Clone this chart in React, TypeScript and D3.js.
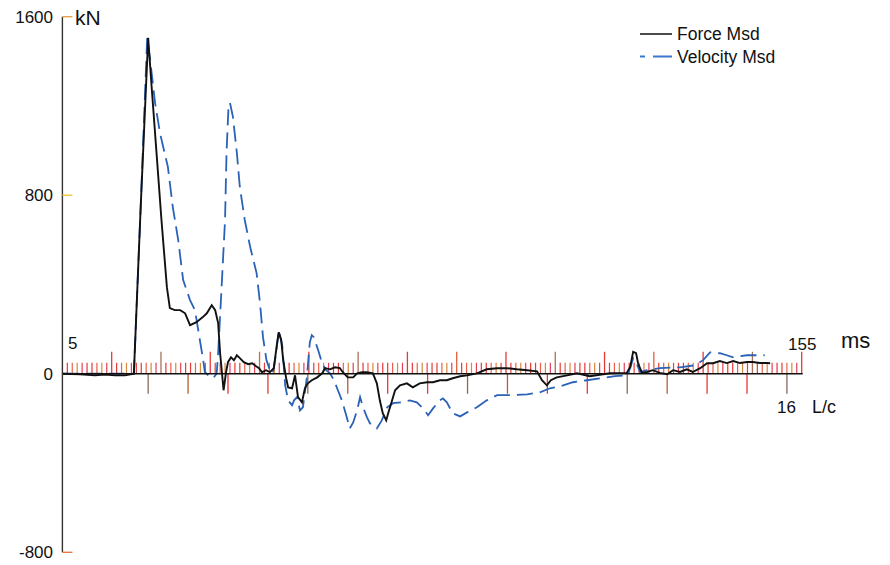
import React from "react";
import * as d3 from "d3";

// Force measured (ms, kN)
const forceT = [5.1, 8.6, 11.6, 13.6, 15.7, 17.7, 19.5, 20.9, 22.4, 23.1, 24.1, 25.1, 26.2, 26.8, 27.8, 28.9, 29.9, 30.9, 32.2, 33.5, 34.3, 35.3, 36.0, 36.6, 37.0, 37.4, 37.7, 38.2, 38.6, 39.2, 39.8, 40.4, 41.0, 41.8, 42.7, 43.5, 44.3, 44.9, 45.5, 46.3, 47.1, 47.9, 48.5, 48.9, 49.4, 49.8, 50.4, 50.8, 51.6, 52.2, 52.8, 53.6, 54.2, 54.8, 55.6, 56.7, 57.7, 58.3, 59.3, 60.3, 61.3, 61.9, 62.9, 64.0, 64.8, 65.8, 66.8, 68.0, 68.8, 69.4, 70.0, 70.7, 71.1, 71.9, 72.5, 73.5, 74.9, 76.1, 77.5, 79.0, 80.2, 81.6, 83.0, 84.2, 85.7, 87.1, 89.1, 91.1, 93.2, 95.2, 97.2, 99.3, 101.3, 102.3, 103.3, 104.1, 105.3, 107.4, 109.4, 112.0, 116.1, 119.5, 120.2, 120.8, 121.4, 121.8, 122.6, 123.6, 124.8, 126.2, 127.7, 128.9, 130.3, 131.7, 132.9, 134.4, 135.8, 137.0, 138.4, 139.8, 141.1, 142.5, 143.9, 145.1, 146.5, 148.0, 148.6];
const forceKN = [0, -2, -7, -4, -7, -7, 0, 756, 1505, 1287, 989, 689, 388, 294, 285, 285, 271, 218, 231, 254, 271, 307, 285, 227, 92, -2, -74, 7, 52, 74, 61, 83, 70, 52, 43, 47, 34, 25, 7, 16, 7, 25, 128, 186, 150, 61, -20, -61, -65, -7, -105, -128, -65, -43, -29, -16, 2, 25, 20, 29, 25, 7, -16, -16, 2, 7, 7, 2, -43, -119, -177, -209, -177, -119, -74, -52, -43, -61, -43, -38, -38, -29, -29, -20, -11, -7, 2, 20, 25, 25, 20, 16, 11, -29, -52, -29, -16, -7, 2, -11, 2, 4, 31, 98, 92, 47, 4, 8, 16, 4, -2, 16, 8, 20, 8, 25, 47, 47, 57, 48, 57, 48, 53, 53, 48, 48, 47];

// Velocity measured (ms, kN-equivalent)
const velT = [5.1, 19.5, 20.9, 22.2, 22.8, 23.8, 24.8, 26.4, 27.4, 28.5, 29.5, 30.9, 31.9, 32.9, 33.5, 33.9, 34.9, 35.6, 36.3, 36.6, 37.3, 38.0, 38.3, 38.7, 39.0, 39.6, 40.4, 41.0, 42.0, 43.1, 44.4, 45.1, 45.7, 46.4, 47.1, 47.7, 48.3, 48.9, 49.6, 50.2, 50.8, 51.6, 52.0, 52.6, 53.2, 53.8, 54.6, 55.2, 55.6, 56.0, 56.9, 57.7, 58.5, 59.3, 60.1, 60.9, 61.7, 62.7, 63.3, 64.0, 64.8, 65.4, 66.0, 66.8, 67.4, 68.8, 69.8, 70.9, 72.1, 73.9, 75.5, 76.9, 78.2, 79.2, 80.2, 81.6, 82.2, 83.0, 84.2, 85.7, 87.1, 89.1, 91.1, 93.2, 95.2, 96.4, 99.3, 101.9, 103.9, 106.0, 108.6, 111.4, 114.1, 117.1, 119.5, 120.2, 120.8, 121.4, 122.2, 123.6, 126.2, 130.3, 133.3, 135.0, 136.4, 138.4, 139.8, 141.1, 143.9, 146.5, 147.5];
const velKN = [0, 0, 756, 1505, 1407, 1214, 1079, 927, 747, 599, 420, 330, 285, 150, 70, 8, -14, -20, 1, 92, 388, 689, 989, 1196, 1214, 1151, 989, 837, 689, 568, 451, 316, 164, 61, 16, 2, 83, 195, 128, -52, -119, -141, -119, -105, -164, -150, -16, 141, 173, 164, 105, 47, 16, 2, -29, -74, -119, -195, -245, -218, -164, -105, -150, -195, -222, -245, -209, -150, -132, -128, -119, -128, -155, -186, -155, -119, -110, -128, -177, -191, -173, -150, -119, -96, -96, -96, -92, -83, -65, -56, -38, -29, -20, -11, -7, 25, 70, 52, 7, 16, 25, 29, 38, 61, 96, 92, 83, 74, 83, 83, 83];

const yTicks = [1600, 800, 0, -800];
const yTickColors = ["#e8a04a", "#eec23a", "#e8a04a", "#e8784a"];
const msStart = 5;
const msEnd = 155;
const impactMs = 22.4;
const lcMs = 8.1;
const lcCount = 16;
const smallColors = ["#e53935", "#e8604a", "#d9873a", "#e04058", "#e53935"];
const tallColors = ["#e53935", "#a8705a", "#e53935", "#e0603a"];
const downColors = ["#8a6a5a", "#b0603a", "#e53935", "#e53935"];

export default function App() {
  const x = d3.scaleLinear().domain([msStart, msEnd]).range([62.4, 801.7]);
  const y = d3.scaleLinear().domain([-800, 1600]).range([552.3, 16.7]);
  const line = d3
    .line<[number, number]>()
    .x((d) => x(d[0]))
    .y((d) => y(d[1]));
  const fPts = forceT.map((t, i) => [t, forceKN[i]] as [number, number]);
  const vPts = velT.map((t, i) => [t, velKN[i]] as [number, number]);
  const y0 = y(0);

  const small = d3.range(msStart + 1, msEnd + 1, 1);
  const tall = d3.range(15, msEnd + 1, 10);
  const down = d3.range(0, lcCount + 1).map((k) => impactMs + k * lcMs);
  const font = "'Liberation Sans', Arial, sans-serif";

  return (
    <svg
      width={890}
      height={565}
      style={{ position: "absolute", left: 0, top: 0, background: "#fff" }}
      fontFamily={font}
    >
      <rect width={890} height={565} fill="#fff" />
      {/* small ms ticks */}
      {small.map((t, i) =>
        t % 10 === 5 ? null : (
          <line key={"s" + t} x1={x(t)} x2={x(t)} y1={y0} y2={y0 - 11} stroke={smallColors[i % smallColors.length]} strokeWidth={1.2} />
        )
      )}
      {tall.map((t, i) => (
        <line key={"t" + t} x1={x(t)} x2={x(t)} y1={y0} y2={y0 - 22} stroke={tallColors[i % tallColors.length]} strokeWidth={1.3} />
      ))}
      {down.map((t, i) => (
        <line key={"d" + i} x1={x(t)} x2={x(t)} y1={y0} y2={y0 + 20} stroke={downColors[i % downColors.length]} strokeWidth={1.3} />
      ))}
      {/* y axis */}
      <line x1={x(msStart)} x2={x(msStart)} y1={y(1600)} y2={y(-800)} stroke="#333" strokeWidth={1.4} />
      {yTicks.map((v, i) => (
        <g key={"y" + v}>
          <line x1={x(msStart)} x2={x(msStart) + 10} y1={y(v)} y2={y(v)} stroke={yTickColors[i]} strokeWidth={1.4} />
          <text x={53} y={y(v)} dy="0.36em" textAnchor="end" fontSize={17} fill="#111">
            {v}
          </text>
        </g>
      ))}
      <text x={75} y={y(1600) + 8} fontSize={21} fill="#111">kN</text>
      {/* curves */}
      <path d={line(vPts) || ""} fill="none" stroke="#2a62b8" strokeWidth={1.8} strokeDasharray="16,7" />
      <path d={line(fPts) || ""} fill="none" stroke="#111" strokeWidth={1.9} />
      {/* zero line */}
      <line x1={x(msStart)} x2={x(msEnd) + 1} y1={y0} y2={y0} stroke="#111" strokeWidth={1.5} />
      {/* axis labels */}
      <text x={68} y={349} fontSize={17} fill="#111">5</text>
      <text x={788} y={350} fontSize={17} fill="#111">155</text>
      <text x={841} y={348} fontSize={22} fill="#111">ms</text>
      <text x={777} y={413} fontSize={17} fill="#111">16</text>
      <text x={812} y={413} fontSize={18} fill="#111">L/c</text>
      {/* legend */}
      <line x1={640} x2={672} y1={34} y2={34} stroke="#111" strokeWidth={1.5} />
      <text x={677} y={40} fontSize={17.5} fill="#111">Force Msd</text>
      <line x1={640} x2={672} y1={56.5} y2={56.5} stroke="#3a78d0" strokeWidth={1.8} strokeDasharray="5,8,19" />
      <text x={677} y={63} fontSize={17.5} fill="#111">Velocity Msd</text>
    </svg>
  );
}
